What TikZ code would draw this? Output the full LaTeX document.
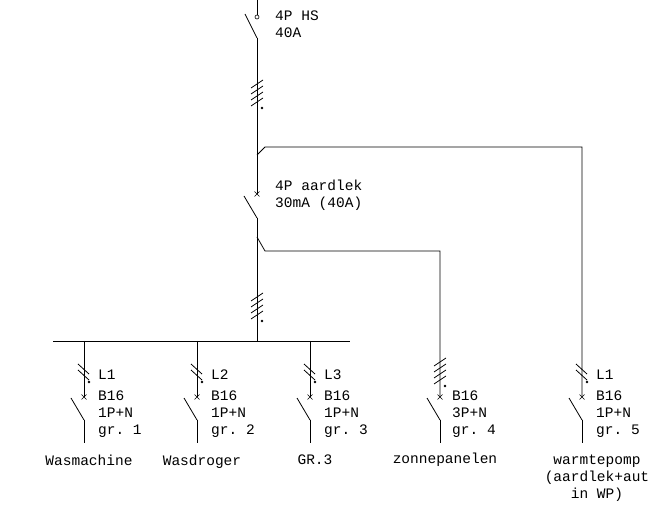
\documentclass[tikz,border=0pt]{standalone}
\usepackage{fontspec}
\setmonofont{Liberation Mono}
\usetikzlibrary{calc,positioning}
\tikzset{
    wiresty/.style={line width=0.8pt},
    bladesty/.style={line width=0.8pt},
    tagsty/.style={font=\ttfamily\fontsize{14.5}{17}\selectfont,align=left,anchor=north west,inner sep=0pt},
    loadsty/.style={font=\ttfamily\fontsize{14.5}{17}\selectfont,align=center,anchor=north,inner sep=0pt},
    dotsty/.style={fill,circle,inner sep=0pt,minimum size=2.6pt},
}
% n conductor marks on a vertical wire, the last one at y
\newcommand{\polemarks}[4]{%
  \foreach \k in {1,...,#3}
    \draw[wiresty] ($(#1,#2)+(-6,{4-(#3-\k)*6})$) -- ++(12,#4);
  \node[dotsty] at ($(#1,#2)+(5,6)$) {};
}
% breaker: cross at top, blade below
\newcommand{\cbreaker}[2]{%
  \draw (#1-2.5,#2-2.5) -- (#1+2.5,#2+2.5) (#1-2.5,#2+2.5) -- (#1+2.5,#2-2.5);
  \draw[bladesty] (#1-13,#2+1) -- (#1,#2+23);
}
\begin{document}
\begin{tikzpicture}[x=1pt,y=-1pt]
\useasboundingbox (0,0) rectangle (665,513);
% main switch
\coordinate (top) at (257,0);
\node[draw,circle,inner sep=0pt,minimum size=4pt,line width=0.6pt] (hs) at (257,17) {};
\coordinate (hsout) at (257,38);
\draw[wiresty] (top) -- (hs.north);
\draw[bladesty] (245,14) -- (hsout);
\node[tagsty] (hstag) at (275,11) {4P HS\\40A};
\coordinate (wpsplit) at (257,155);
\draw[wiresty] (hsout) -- (wpsplit);
\polemarks{257}{102}{4}{-8}
% earth leakage switch
\coordinate (rcdin) at (257,194);
\coordinate (rcdout) at (257,218);
\draw[wiresty] (wpsplit) -- (rcdin);
\draw (254.5,191.5) -- (259.5,196.5) (254.5,196.5) -- (259.5,191.5);
\draw[bladesty] (244,196) -- (rcdout);
\node[tagsty] (rcdtag) at (275,180) {4P aardlek\\30mA (40A)};
\coordinate (pvsplit) at (257,237);
\coordinate (bus) at (257,341);
\draw[wiresty] (rcdout) -- (bus);
\polemarks{257}{315}{4}{-8}
% busbar
\coordinate (busl) at (53,341);
\coordinate (busr) at (350,341);
\draw[wiresty] (busl) -- (busr);
% branch to heat pump and to solar panels
\coordinate (wpcorner) at (582,147);
\coordinate (wpin) at (582,397);
\draw[wiresty] (wpsplit) -- (265,147) -- (wpcorner) -- (wpin);
\coordinate (pvcorner) at (440,251);
\coordinate (pvin) at (440,397);
\draw[wiresty] (pvsplit) -- (265,251) -- (pvcorner) -- (pvin);
\draw[wiresty] (440,420) -- (440,443) (582,420) -- (582,443);
% single phase groups
\foreach \x/\ph/\grp/\load in {84/L1/1/Wasmachine,197/L2/2/Wasdroger,310/L3/3/GR.3}{
  \draw[wiresty] (\x,341) -- (\x,397) (\x,420) -- (\x,443);
  \foreach \k in {0,1}
    \draw[wiresty] (\x-6,{364+\k*6}) -- ++(11,10);
  \node[dotsty] at (\x+5,382) {};
  \node[tagsty] at (\x+14,370) {\ph};
  \cbreaker{\x}{397}
  \node[tagsty] at (\x+14,391) {B16\\1P+N\\gr. \grp};
  \node[loadsty] at (\x+5,455) {\load};
}
% solar panels
\polemarks{440}{380}{4}{-8}
\cbreaker{440}{397}
\node[tagsty] (pvtag) at (452,391) {B16\\3P+N\\gr. 4};
\node[loadsty] (pvload) at (445,453) {zonnepanelen};
% heat pump
\foreach \k in {0,1}
  \draw[wiresty] (576,{364+\k*6}) -- ++(11,10);
\node[dotsty] at (587,382) {};
\node[tagsty] (wpph) at (596,370) {L1};
\cbreaker{582}{397}
\node[tagsty] (wptag) at (596,391) {B16\\1P+N\\gr. 5};
\node[loadsty] (wpload) at (597,455) {warmtepomp\\(aardlek+aut\\in WP)};
\end{tikzpicture}
\end{document}
